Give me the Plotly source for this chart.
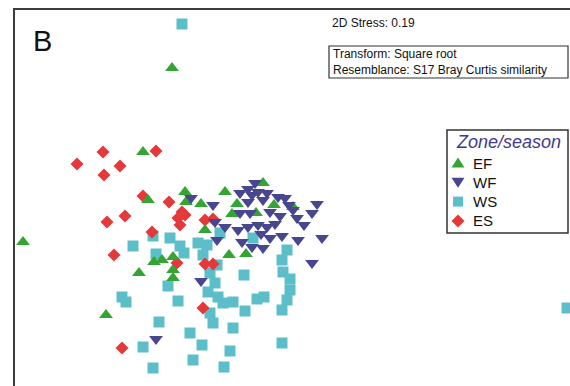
import plotly.graph_objects as go

# nMDS ordination scores (axis 1, axis 2) by zone/season group
ef_x = [-1.18, -2.67, -1.47, -1.42, -1.05, -1.04, -0.89, -0.65, -0.53, -0.58, -0.34, -0.27,
        -0.16, 0.03, -0.85, -0.61, -0.44, -1.36, -1.28, -1.17, -1.17, -1.51, -1.17, -1.84]
ef_y = [1.62, -0.12, 0.78, 0.30, 0.38, 0.28, 0.26, 0.38, 0.26, 0.16, 0.17, 0.47,
        0.25, 0.23, 0.00, -0.25, -0.24, -0.32, -0.30, -0.27, -0.40, -0.43, -0.48, -0.85]

wf_x = [-0.99, -0.77, -0.35, -0.42, -0.50, -0.38, -0.32, -0.23, -0.42, -0.27, -0.12, -0.05,
        -0.01, 0.27, -0.20, -0.10, 0.03, 0.22, -0.50, -0.40, 0.07, 0.14, -0.75, -0.65,
        -0.52, -0.42, -0.32, -0.23, -0.15, -0.29, -0.20, -0.08, 0.08, 0.32, -0.73, -0.48,
        -0.38, -0.27, 0.22, -0.89, -1.34]
wf_y = [0.32, 0.25, 0.47, 0.41, 0.37, 0.35, 0.38, 0.37, 0.28, 0.30, 0.33, 0.32,
        0.25, 0.26, 0.18, 0.14, 0.20, 0.17, 0.17, 0.17, 0.12, 0.05, 0.08, 0.03,
        0.00, 0.03, 0.05, 0.03, 0.06, -0.04, -0.08, -0.06, -0.10, -0.08, -0.10, -0.12,
        -0.17, -0.18, -0.33, -0.51, -1.09]

ws_x = [-1.08, 2.77, -1.37, -1.57, -1.20, -1.10, -1.06, -0.92, -0.83, -0.87, -1.34, -0.70,
        -0.37, -0.73, -0.80, -0.75, -0.82, -0.72, -0.67, -0.57, -0.46, -0.33, -0.26, -0.45,
        -0.80, -0.77, -1.00, -0.57, -0.88, -0.60, -0.97, -0.66, -1.37, -1.47, -1.31, -1.22,
        -1.12, -1.68, -1.64, -0.03, -0.08, -0.07, 0.00, 0.00, -0.03, -0.08, -0.08]
ws_y = [2.06, -0.78, -0.06, -0.16, -0.08, -0.16, -0.23, -0.13, -0.15, -0.25, -0.24, -0.03,
        -0.08, -0.35, -0.43, -0.53, -0.62, -0.67, -0.73, -0.72, -0.45, -0.69, -0.67, -0.81,
        -0.83, -0.93, -1.03, -0.98, -1.15, -1.21, -1.30, -1.37, -1.38, -1.17, -0.92, -0.56,
        -0.71, -0.67, -0.72, -0.20, -0.30, -0.42, -0.49, -0.60, -0.70, -0.80, -1.13]

es_x = [-1.87, -2.13, -1.70, -1.86, -1.34, -1.47, -1.21, -1.65, -1.83, -1.08, -1.05, -1.12,
        -1.10, -0.85, -0.77, -1.38, -1.76, -1.13, -0.85, -0.77, -0.87, -1.68]
es_y = [0.78, 0.66, 0.64, 0.55, 0.79, 0.34, 0.28, 0.14, 0.08, 0.18, 0.15, 0.12,
        0.05, 0.10, 0.11, -0.02, -0.25, -0.33, -0.34, -0.34, -0.78, -1.18]

group_names = ["EF", "WF", "WS", "ES"]

W, H = 570, 386
ML, MT = 15, 10
PW, PH = W - ML, H - MT


def px(x):
    return (x - ML) / PW


def py(y):
    return 1 - (y - MT) / PH


FONT = "Liberation Sans, Arial, sans-serif"
GREEN = "#34a534"
NAVY = "#48468f"
CYAN = "#5bbec8"
RED = "#e5383b"

styles = {
    "EF": dict(symbol="triangle-up", color=GREEN, size=12),
    "WF": dict(symbol="triangle-down", color=NAVY, size=12),
    "WS": dict(symbol="square", color=CYAN, size=11),
    "ES": dict(symbol="diamond", color=RED, size=10),
}
series = {"EF": (ef_x, ef_y), "WF": (wf_x, wf_y), "WS": (ws_x, ws_y), "ES": (es_x, es_y)}

fig = go.Figure()
# later groups are painted over earlier ones
for name in ["WS", "ES", "EF", "WF"]:
    xs, ys = series[name]
    st = styles[name]
    fig.add_trace(go.Scatter(
        x=xs, y=ys, mode="markers", name=name, showlegend=False,
        marker=dict(symbol=st["symbol"], color=st["color"], size=st["size"], line=dict(width=0)),
    ))

fig.update_layout(
    width=W, height=H,
    margin=dict(l=ML, r=0, t=MT, b=0),
    paper_bgcolor="white", plot_bgcolor="white",
    font=dict(family=FONT, color="#111111"),
    xaxis=dict(range=[-2.75, 2.80], showgrid=False, zeroline=False, showticklabels=False,
               ticks="", showline=True, side="top", linecolor="#3c3c3c", linewidth=2),
    yaxis=dict(range=[-1.56, 2.20], showgrid=False, zeroline=False, showticklabels=False,
               ticks="", showline=True, side="left", linecolor="#3c3c3c", linewidth=2),
    showlegend=False,
)


def key_path(kind, cx, cy):
    # legend key glyph outline, in pixel units, converted to paper coordinates
    if kind == "triangle-up":
        pts = [(cx - 6.5, cy + 4.5), (cx + 6.5, cy + 4.5), (cx, cy - 5.5)]
    elif kind == "triangle-down":
        pts = [(cx - 6.5, cy - 4.5), (cx + 6.5, cy - 4.5), (cx, cy + 5.5)]
    elif kind == "square":
        pts = [(cx - 5, cy - 5), (cx + 5, cy - 5), (cx + 5, cy + 5), (cx - 5, cy + 5)]
    else:
        pts = [(cx, cy - 6.5), (cx + 6.5, cy), (cx, cy + 6.5), (cx - 6.5, cy)]
    return "M " + " L ".join(f"{px(a):.5f},{py(b):.5f}" for a, b in pts) + " Z"


# legend box
fig.add_shape(type="rect", xref="paper", yref="paper",
              x0=px(447), x1=px(568), y0=py(130), y1=py(233),
              line=dict(color="#333333", width=1.5), fillcolor="white")
fig.add_annotation(text="<i>Zone/season</i>", x=px(454), y=py(142), xref="paper", yref="paper",
                   xanchor="left", yanchor="middle", showarrow=False,
                   font=dict(family=FONT, size=18, color="#3d3b8e"))
for i, name in enumerate(group_names):
    cy = 163 + i * 19.3
    st = styles[name]
    fig.add_shape(type="path", xref="paper", yref="paper", path=key_path(st["symbol"], 458, cy),
                  fillcolor=st["color"], line=dict(width=0))
    fig.add_annotation(text=name, x=px(471), y=py(cy), xref="paper", yref="paper",
                       xanchor="left", yanchor="middle", showarrow=False,
                       font=dict(family=FONT, size=15, color="#111111"))

fig.add_annotation(text="B", x=px(31), y=py(41), xref="paper", yref="paper",
                   xanchor="left", yanchor="middle", showarrow=False,
                   font=dict(family=FONT, size=29, color="#111111"))
fig.add_annotation(text="2D Stress: 0.19", x=px(330), y=py(23), xref="paper", yref="paper",
                   xanchor="left", yanchor="middle", showarrow=False,
                   font=dict(family=FONT, size=12, color="#111111"))
fig.add_shape(type="rect", xref="paper", yref="paper",
              x0=px(329), x1=px(568), y0=py(46), y1=py(78),
              line=dict(color="#333333", width=1.2), fillcolor="white")
fig.add_annotation(text="Transform: Square root<br>Resemblance: S17 Bray Curtis similarity",
                   x=px(331), y=py(62), xref="paper", yref="paper",
                   xanchor="left", yanchor="middle", align="left", showarrow=False,
                   font=dict(family=FONT, size=12, color="#111111"))

fig.write_html("out.html")
